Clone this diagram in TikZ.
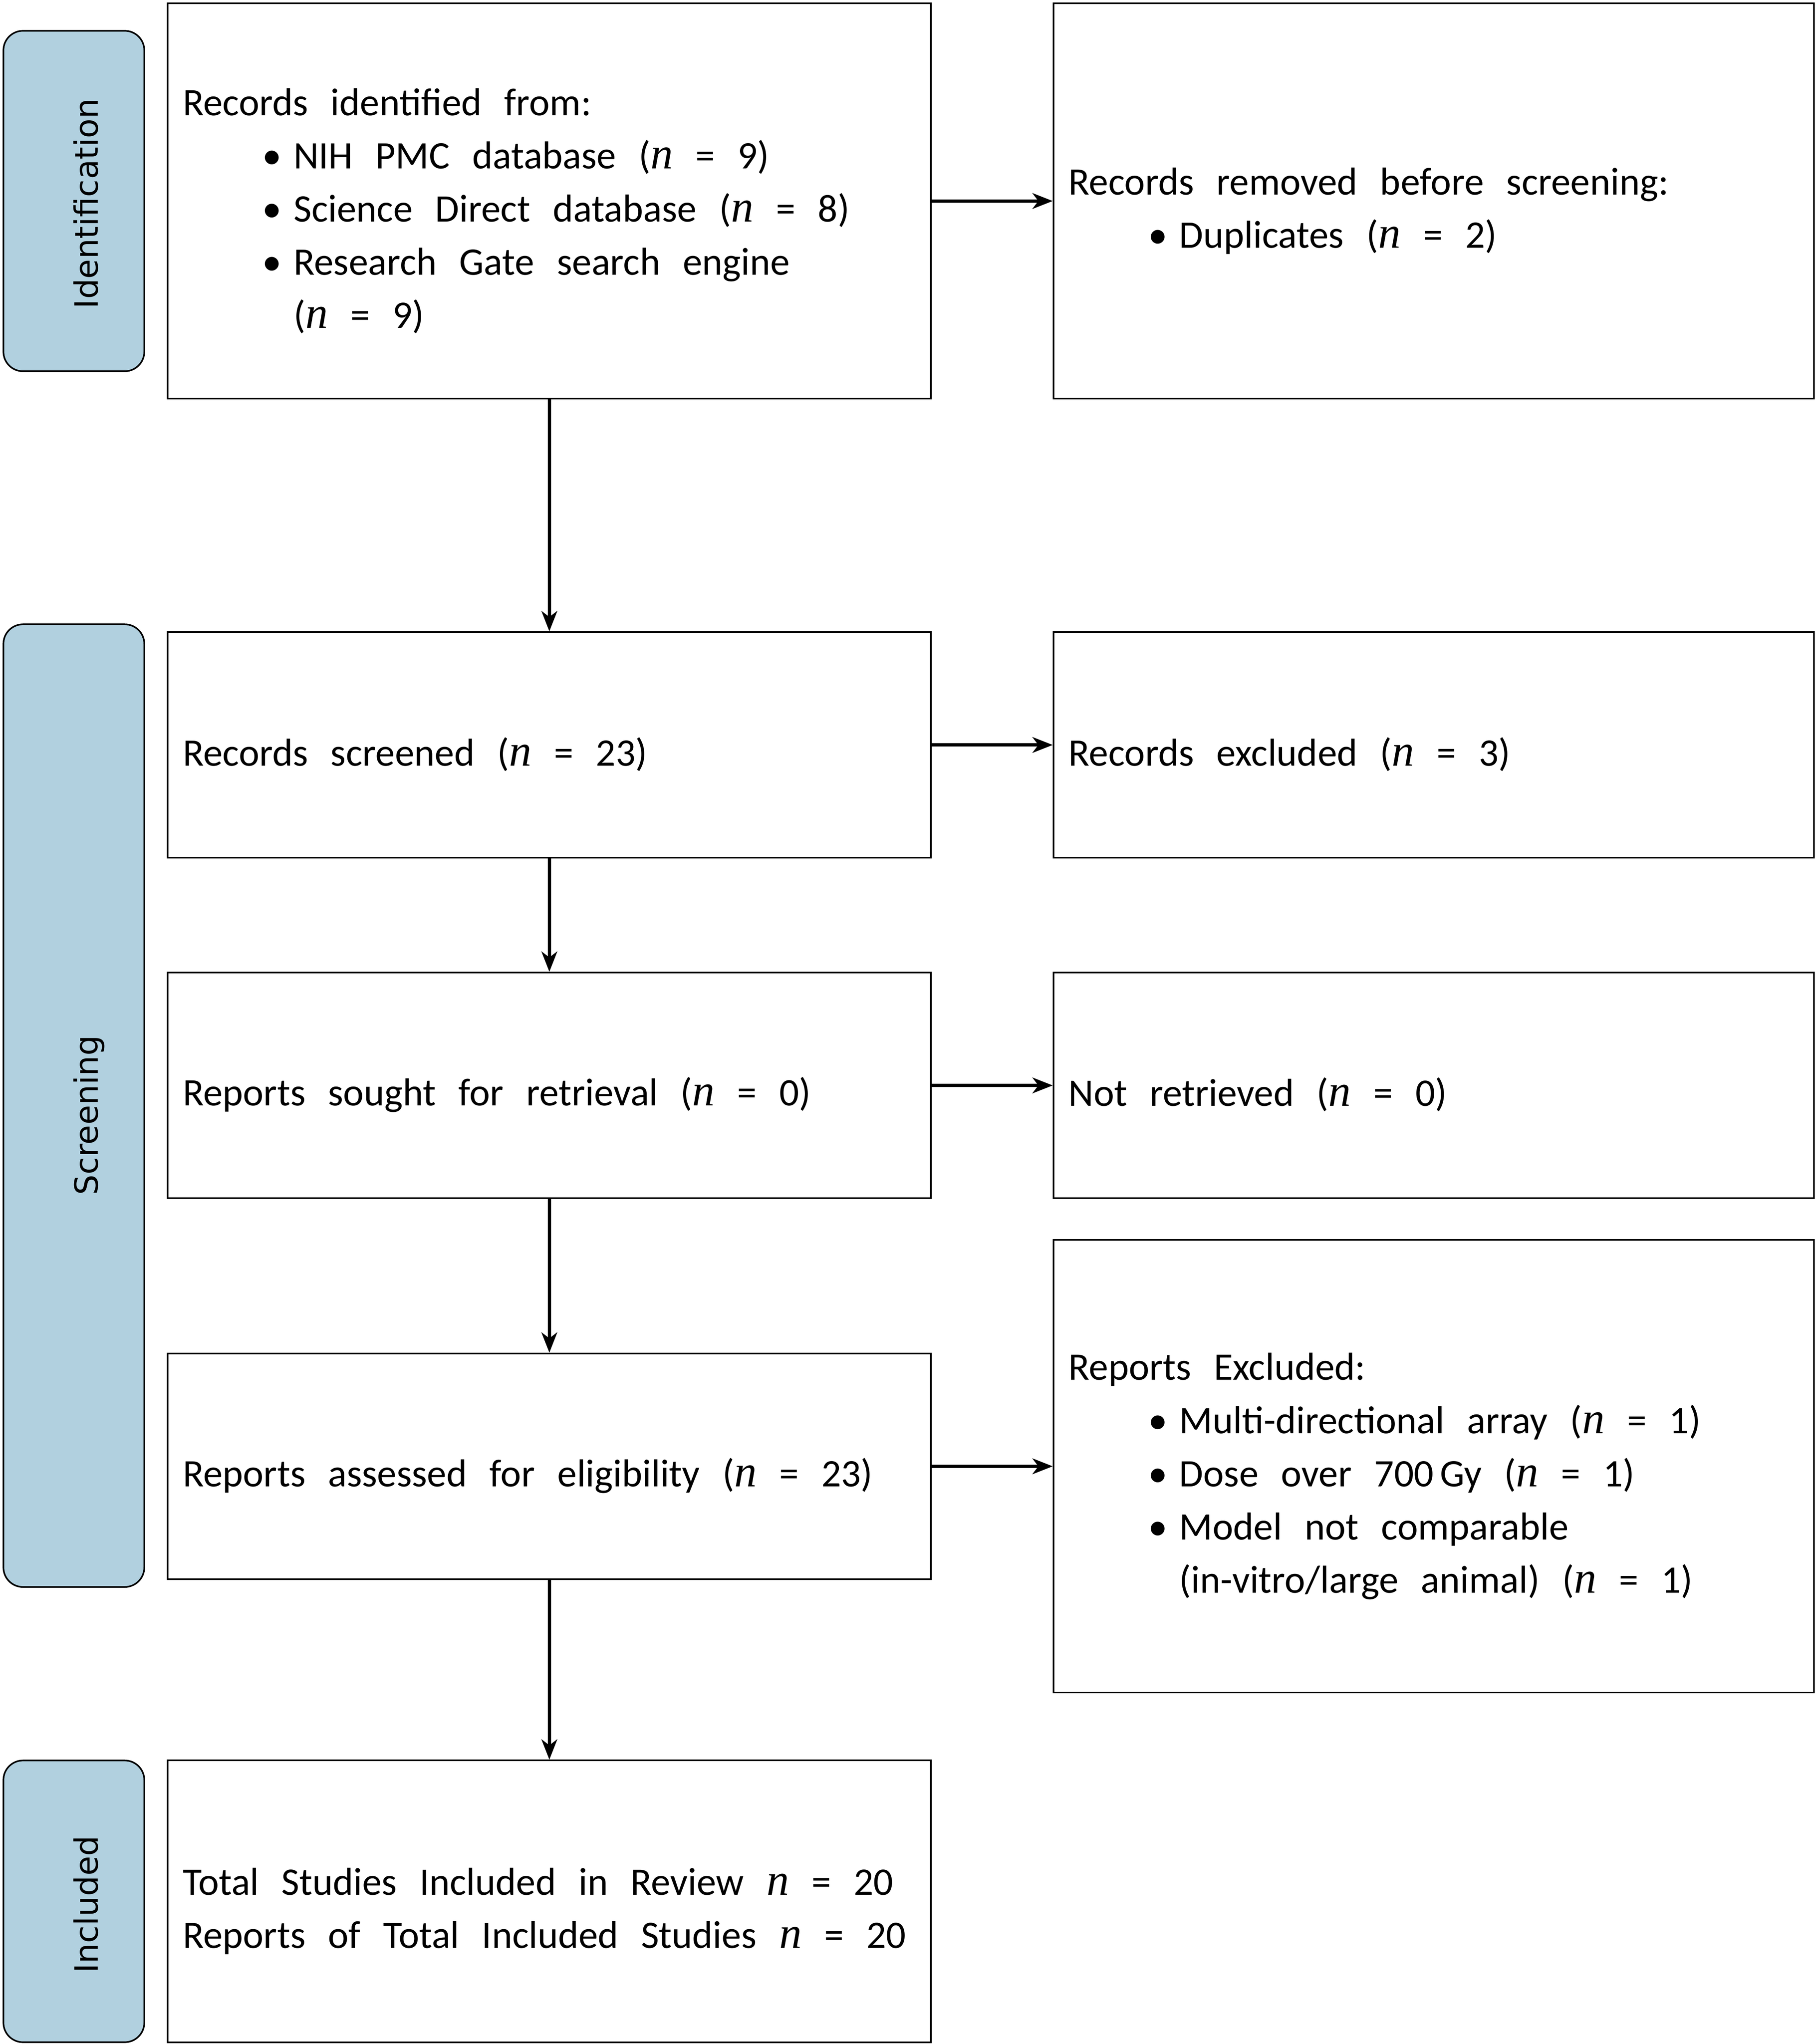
\documentclass[tikz,border=0pt]{standalone}
\usepackage{fontspec}
\setmainfont{Carlito}
\newfontfamily\sidefont{DejaVu Sans}
\newfontfamily\nfont[Scale=1.15]{Liberation Serif}
\usetikzlibrary{arrows.meta}
\definecolor{sideblue}{RGB}{177,208,223}
\newcommand{\nn}{{\nfont\itshape n}}
\newcommand{\bitem}{\hspace*{1.22cm}\makebox[0.48cm][l]{\textbullet}}
\newcommand{\bcont}{\hspace*{1.7cm}}
\newcommand{\widesp}{\spaceskip=0.58em plus 0.1em\relax\xspaceskip=\spaceskip}
\tikzset{
  box/.style={draw, line width=0.7pt, anchor=north west, align=left, inner xsep=0.23cm,
    font=\fontsize{17}{23.2}\selectfont, execute at begin node={\widesp\rule{0pt}{0.72cm}}},
  lbox/.style={box, text width=11.24cm, minimum height=#1},
  rbox/.style={box, text width=11.2cm, minimum height=#1},
  side/.style={draw, line width=0.7pt, fill=sideblue, rounded corners=0.3cm, anchor=north west, minimum width=2.16cm, minimum height=#1},
  sidetext/.style={rotate=90, anchor=base, font=\sidefont\fontsize{14}{14}\selectfont},
  flow/.style={-{Stealth[length=3.1mm,width=2.4mm,inset=0.9mm]}, line width=1.4pt},
}
\begin{document}
\begin{tikzpicture}[x=0.2mm, y=-0.2mm]
\useasboundingbox (0,0) rectangle (1392,1567);

% Stage bars
\node[side=5.22cm] (idbar) at (2,23) {};
\node[side=14.76cm] (scbar) at (2,478) {};
\node[side=4.32cm] (inbar) at (2,1349) {};

% Stage labels
\node[sidetext] (idlab) at (75,156) {Identification};
\node[sidetext] (sclab) at (75,855) {Screening};
\node[sidetext] (inlab) at (75,1460) {Included};

% Main column
\node[lbox=6.06cm] (ident) at (128,2) {Records identified from:\\
  \bitem NIH PMC database (\nn{} = 9)\\
  \bitem Science Direct database (\nn{} = 8)\\
  \bitem Research Gate search engine\\
  \bcont (\nn{} = 9)};
\node[lbox=3.46cm] (screen) at (128,484) {Records screened (\nn{} = 23)};
\node[lbox=3.46cm] (sought) at (128,745) {Reports sought for retrieval (\nn{} = 0)};
\node[lbox=3.46cm] (assess) at (128,1037) {Reports assessed for eligibility (\nn{} = 23)};
\node[lbox=4.32cm] (incl) at (128,1349) {Total Studies Included in Review \nn{} = 20\\
  Reports of Total Included Studies \nn{} = 20};

% Side column
\node[rbox=6.06cm] (removed) at (807,2) {Records removed before screening:\\
  \bitem Duplicates (\nn{} = 2)};
\node[rbox=3.46cm] (excl) at (807,484) {Records excluded (\nn{} = 3)};
\node[rbox=3.46cm] (notret) at (807,745) {Not retrieved (\nn{} = 0)};
\node[rbox=6.94cm] (repexcl) at (807,950) {Reports Excluded:\\
  \bitem Multi-directional array (\nn{} = 1)\\
  \bitem Dose over 700\,Gy (\nn{} = 1)\\
  \bitem Model not comparable\\
  \bcont (in-vitro/large animal) (\nn{} = 1)};

% Arrows
\foreach \src/\dst in {ident/screen, screen/sought, sought/assess, assess/incl}
  \draw[flow] (\src.south) -- (\dst.north);
\foreach \src/\dst in {ident/removed, screen/excl, sought/notret, assess/repexcl}
  \draw[flow] (\src.east) -- (\dst.west);
\end{tikzpicture}
\end{document}
